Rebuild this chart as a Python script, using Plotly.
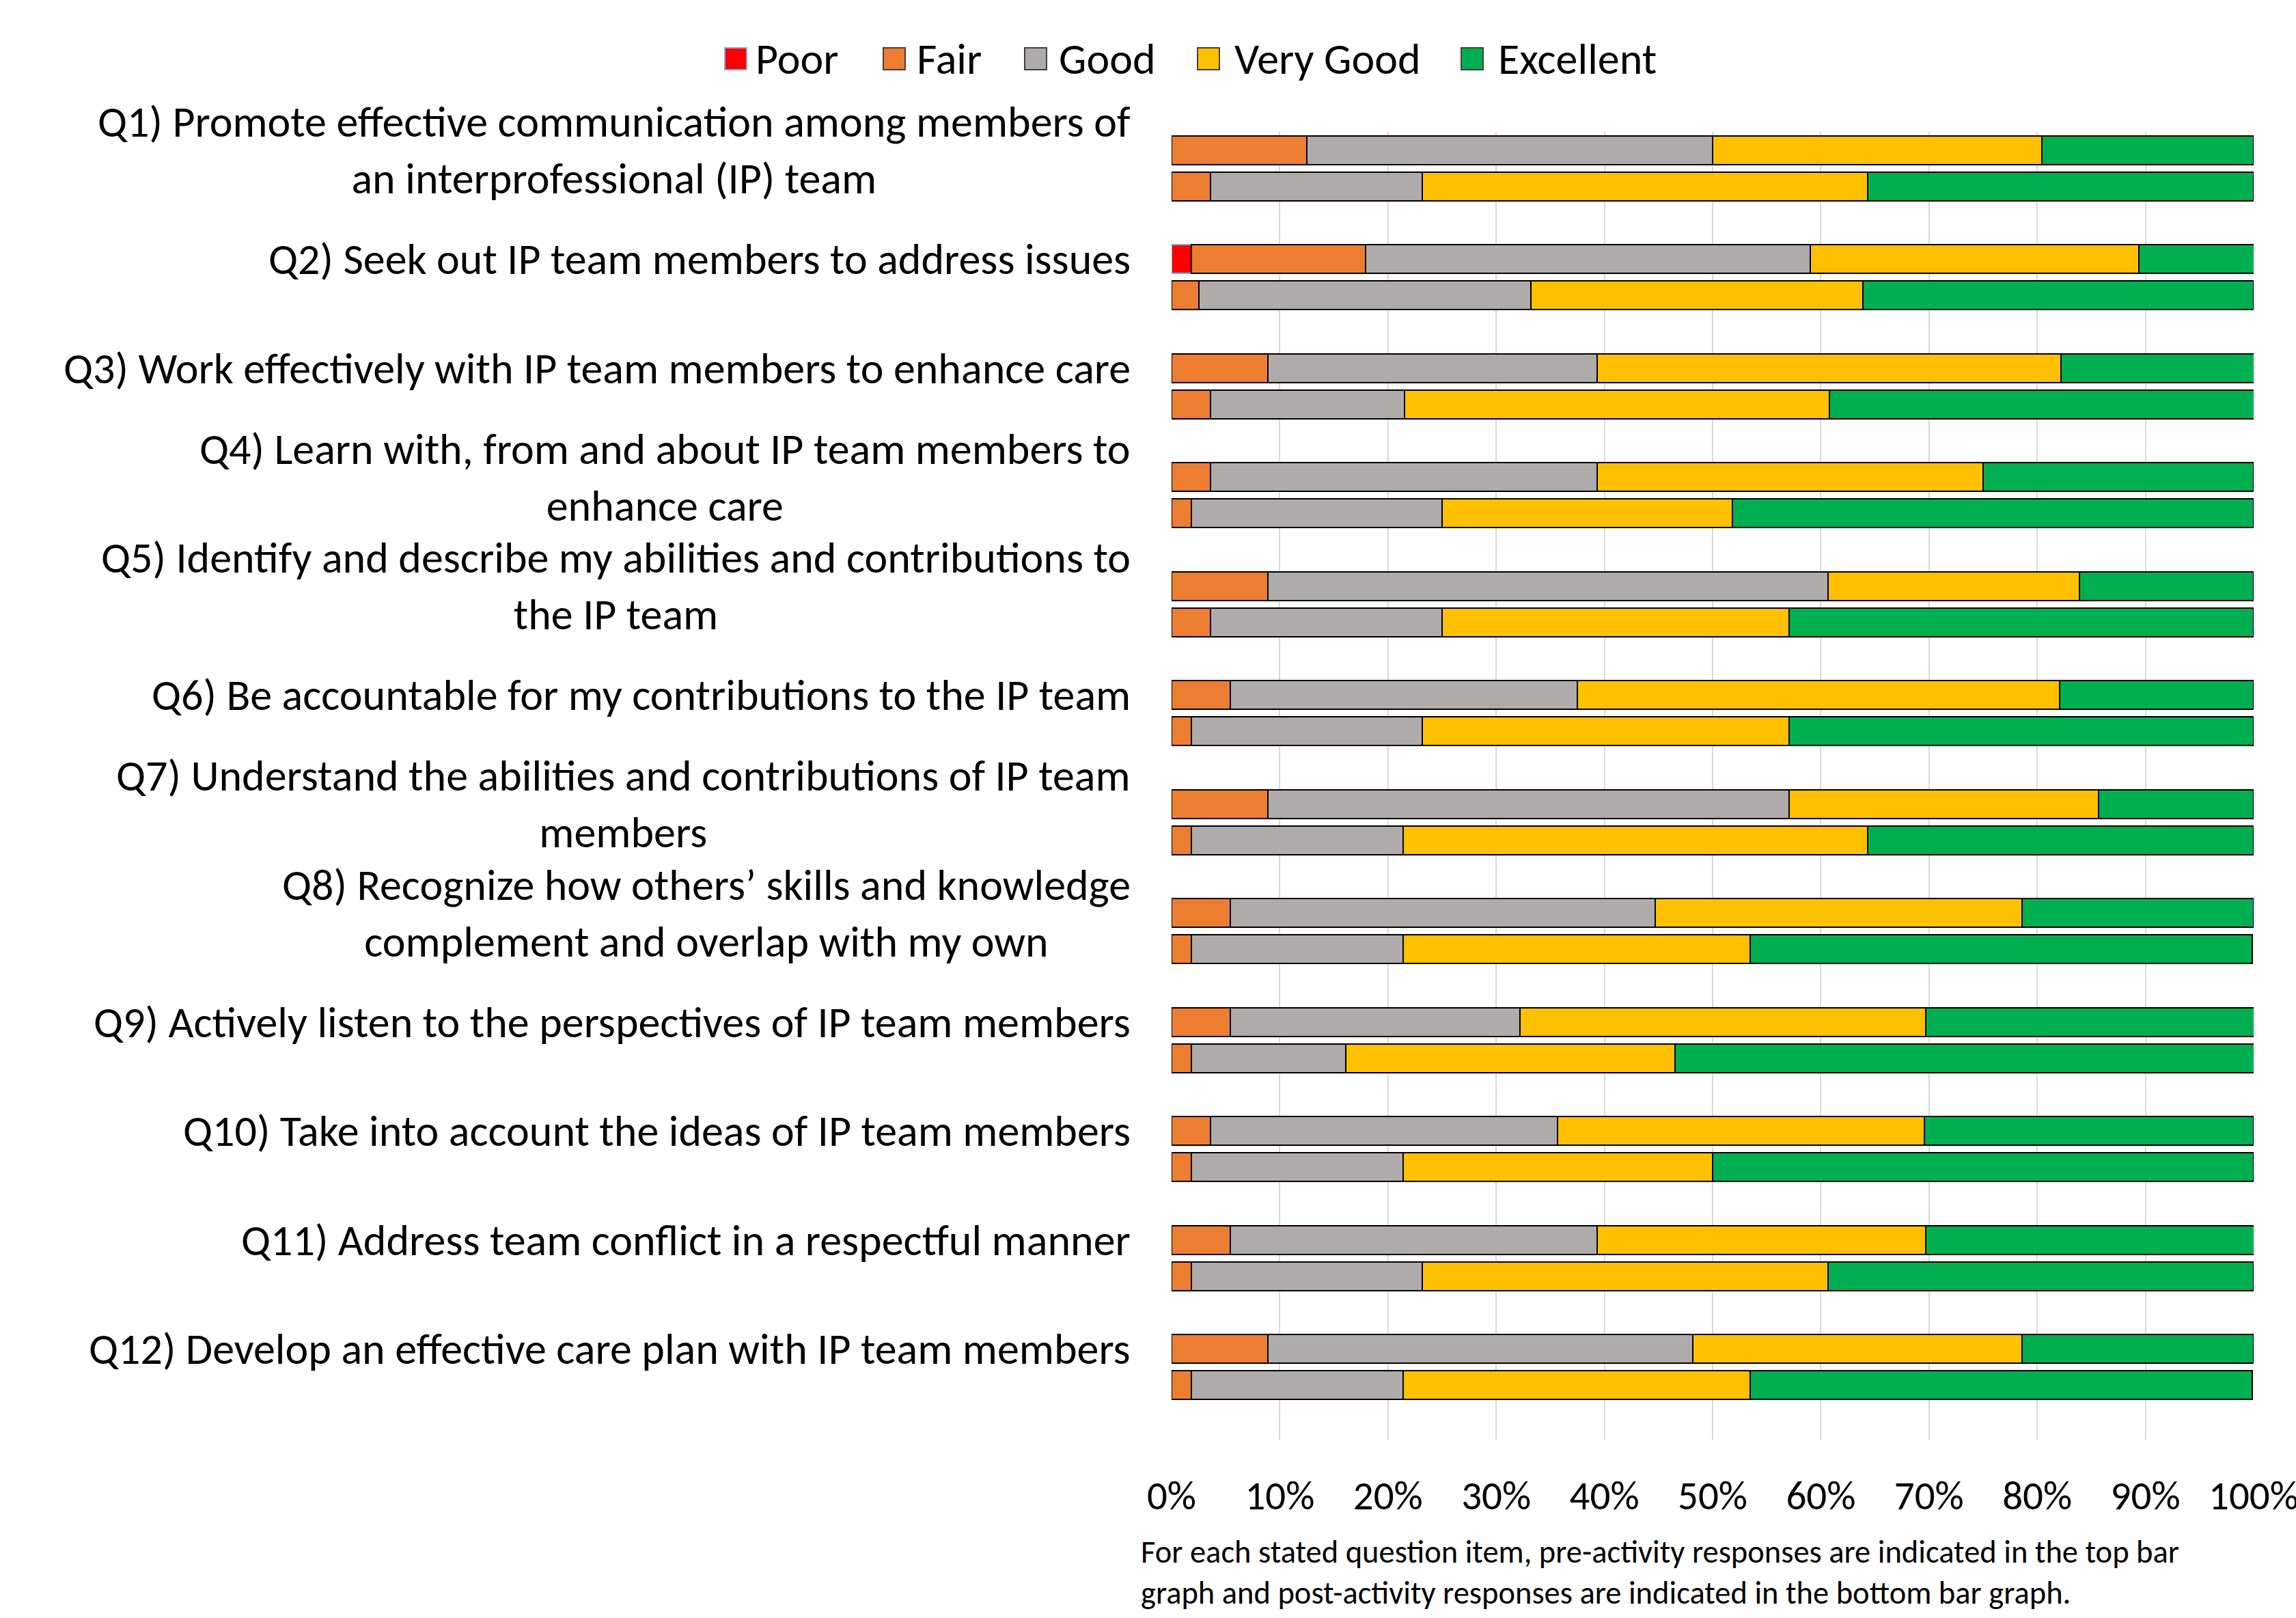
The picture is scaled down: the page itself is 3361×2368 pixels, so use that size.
import plotly.graph_objects as go

# ---------------- data ----------------
questions = [
    "Q1) Promote effective communication among members of<br>an interprofessional (IP) team",
    "Q2) Seek out IP team members to address issues",
    "Q3) Work effectively with IP team members to enhance care",
    "Q4) Learn with, from and about IP team members to<br>enhance care",
    "Q5) Identify and describe my abilities and contributions to<br>the IP team",
    "Q6) Be accountable for my contributions to the IP team",
    "Q7) Understand the abilities and contributions of IP team<br>members",
    "Q8) Recognize how others\u2019 skills and knowledge<br>complement and overlap with my own",
    "Q9) Actively listen to the perspectives of IP team members",
    "Q10) Take into account the ideas of IP team members",
    "Q11) Address team conflict in a respectful manner",
    "Q12) Develop an effective care plan with IP team members",
]
levels = ["Poor", "Fair", "Good", "Very Good", "Excellent"]
colors = ["#FF0000", "#ED7D31", "#AFABAB", "#FFC000", "#00B050"]

# pre-activity (%)
pre_poor  = [0, 1.8, 0, 0, 0, 0, 0, 0, 0, 0, 0, 0]
pre_fair  = [12.5, 16.1, 8.9, 3.6, 8.9, 5.4, 8.9, 5.4, 5.4, 3.6, 5.4, 8.9]
pre_good  = [37.5, 41.1, 30.4, 35.7, 51.8, 32.1, 48.2, 39.3, 26.8, 32.1, 33.9, 39.3]
pre_vgood = [30.4, 30.4, 42.9, 35.7, 23.2, 44.6, 28.6, 33.9, 37.5, 33.9, 30.4, 30.4]
pre_exc   = [19.6, 10.7, 17.9, 25.0, 16.1, 17.9, 14.3, 21.4, 30.4, 30.4, 30.4, 21.4]

# post-activity (%)
post_poor  = [0, 0, 0, 0, 0, 0, 0, 0, 0, 0, 0, 0]
post_fair  = [3.6, 2.5, 3.6, 1.8, 3.6, 1.8, 1.8, 1.8, 1.8, 1.8, 1.8, 1.8]
post_good  = [19.6, 30.7, 17.9, 23.2, 21.4, 21.4, 19.6, 19.6, 14.3, 19.6, 21.4, 19.6]
post_vgood = [41.1, 30.7, 39.3, 26.8, 32.1, 33.9, 42.9, 32.1, 30.4, 28.6, 37.5, 32.1]
post_exc   = [35.7, 36.1, 39.3, 48.2, 42.9, 42.9, 35.7, 46.4, 53.6, 50.0, 39.3, 46.4]

x_ticks = [0, 10, 20, 30, 40, 50, 60, 70, 80, 90, 100]
x_tick_labels = ["0%", "10%", "20%", "30%", "40%", "50%", "60%", "70%", "80%", "90%", "100%"]

footnote = ("For each stated question item, pre-activity responses are indicated in the top bar<br>"
            "graph and post-activity responses are indicated in the bottom bar graph.")

# ---------------- layout geometry (pixels) ----------------
W, H = 3361, 2368
PL, PR, PT, PB = 1715, 3299, 193, 2107
FONT = "Calibri, Carlito, Lato, sans-serif"

def px_x(px):
    return (px - PL) / (PR - PL)

def px_y(py):
    return (PB - py) / (PB - PT)

pre_sets = [pre_poor, pre_fair, pre_good, pre_vgood, pre_exc]
post_sets = [post_poor, post_fair, post_good, post_vgood, post_exc]

n = len(questions)
pre_y = [3 * i for i in range(n)]
post_y = [3 * i + 1 for i in range(n)]

fig = go.Figure()
for lvl, col, pre, post in zip(levels, colors, pre_sets, post_sets):
    xs = [v if v else None for v in pre + post]
    line_col = "#7FAEDB" if lvl == "Poor" else "#000000"
    fig.add_trace(go.Bar(
        x=xs, y=pre_y + post_y, orientation="h", name=lvl,
        width=0.79,
        marker=dict(color=col, line=dict(color=line_col, width=2)),
        showlegend=False,
    ))

fig.update_layout(
    width=W, height=H,
    margin=dict(l=PL, r=W - PR, t=PT, b=H - PB, autoexpand=False),
    barmode="stack",
    plot_bgcolor="white", paper_bgcolor="white",
    font=dict(family=FONT, size=60, color="black"),
    xaxis=dict(range=[0, 100], tickvals=x_ticks, ticktext=x_tick_labels,
               showgrid=True, gridcolor="#D9D9D9", gridwidth=2,
               zeroline=False, showline=False, ticks="",
               tickfont=dict(size=59), ticklabelstandoff=42,
               ticklabeloverflow="allow", automargin=False),
    yaxis=dict(range=[3 * n - 0.5, -0.5], showticklabels=False,
               showgrid=False, zeroline=False, showline=False,
               automargin=False),
)

annotations = []
# question labels, centered on the pre-activity bar
for i, q in enumerate(questions):
    annotations.append(dict(
        text=q, xref="paper", yref="y", x=px_x(1657), y=pre_y[i],
        xanchor="right", yanchor="middle", align="center", showarrow=False,
        font=dict(size=64),
    ))

# footnote
annotations.append(dict(
    text=footnote, xref="paper", yref="paper", x=px_x(1668), y=px_y(2301),
    xanchor="left", yanchor="middle", align="left", showarrow=False,
    font=dict(size=46.5),
))

# manual legend (large swatches)
swatch_x = [1061, 1293, 1500, 1753, 2139]
text_x = [1104, 1340, 1548, 1805, 2191]
shapes = []
for lvl, col, sx, tx in zip(levels, colors, swatch_x, text_x):
    shapes.append(dict(
        type="rect", xref="paper", yref="paper",
        x0=px_x(sx), x1=px_x(sx + 32), y0=px_y(102), y1=px_y(70),
        fillcolor=col,
        line=dict(color="#7FAEDB" if lvl == "Poor" else "#404040", width=2),
    ))
    annotations.append(dict(
        text=lvl, xref="paper", yref="paper", x=px_x(tx), y=px_y(86),
        xanchor="left", yanchor="middle", showarrow=False,
        font=dict(size=64),
    ))

fig.update_layout(annotations=annotations, shapes=shapes)
fig.write_html("out.html")
